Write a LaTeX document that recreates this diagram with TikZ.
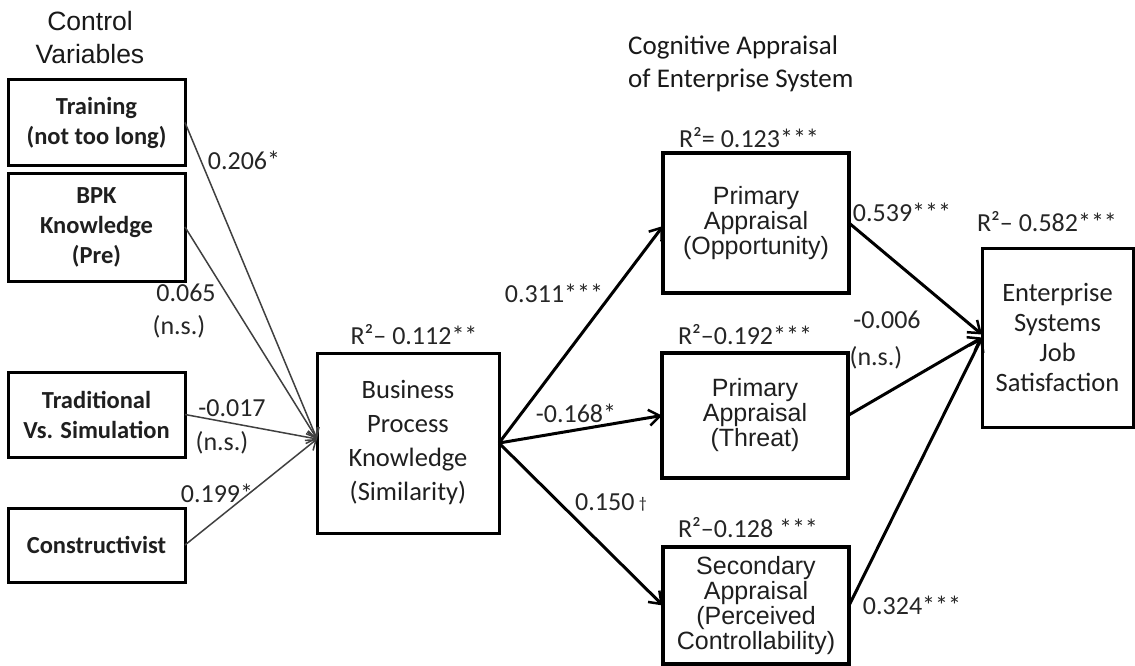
\documentclass[tikz,border=0pt]{standalone}
\usepackage{fontspec}
\setmainfont{Carlito}
\newfontfamily\arialfont{Liberation Sans}
\usetikzlibrary{arrows.meta}

\begin{document}
\begin{tikzpicture}[x=1pt,y=-1pt,
  box/.style={draw=black,line width=3pt,inner sep=0pt,outer sep=0pt,fill=white,align=center,text=black!88},
  ctrlbox/.style={box,font=\fontsize{24.5}{30}\selectfont\bfseries},
  mainbox/.style={box,font=\fontsize{26.5}{34}\selectfont},
  apprbox/.style={box,line width=3.5pt,font=\arialfont\fontsize{25}{25}\selectfont},
  coef/.style={inner sep=0pt,text=black!85,font=\fontsize{26}{30}\selectfont},
  heading/.style={inner sep=0pt,text=black!90,align=left},
  thinarrow/.style={draw=black!75,line width=1.5pt,-{Straight Barb[length=9pt,width=13pt,line width=1.5pt]}},
  thickarrow/.style={draw=black,line width=3pt,-{Straight Barb[length=11pt,width=16pt,line width=2.5pt]}}
]
\useasboundingbox (0,0) rectangle (1135,666);
\fill[white] (0,0) rectangle (1135,666);

% headings
\node[heading,align=center,font=\arialfont\fontsize{26.5}{33}\selectfont] (hctrl) at (90,38) {Control\\Variables};
\node[heading,anchor=west,font=\fontsize{27}{33}\selectfont] (hcog) at (628,64) {Cognitive Appraisal\\of Enterprise System};

% control variable boxes
\node[ctrlbox,minimum width=177pt,minimum height=85pt] (train) at (96.5,122.5) {Training\\(not too long)};
\node[ctrlbox,minimum width=177pt,minimum height=108pt] (bpk) at (96.5,227) {BPK\\Knowledge\\(Pre)};
\node[ctrlbox,minimum width=177pt,minimum height=85pt] (trad) at (96.5,414.5) {Traditional\\Vs. Simulation};
\node[ctrlbox,minimum width=177pt,minimum height=74pt] (cons) at (96.5,545) {Constructivist};

% mediator and appraisal boxes
\node[mainbox,minimum width=182pt,minimum height=180pt] (bpkn) at (408,443) {Business\\Process\\Knowledge\\(Similarity)};
\node[apprbox,minimum width=186pt,minimum height=140pt] (opp) at (756,223) {Primary\\Appraisal\\(Opportunity)};
\node[apprbox,minimum width=186pt,minimum height=125pt] (thr) at (755,415.5) {Primary\\Appraisal\\(Threat)};
\node[apprbox,minimum width=186pt,minimum height=117pt] (sec) at (756,605.5) {Secondary\\Appraisal\\(Perceived\\Controllability)};
\node[mainbox,minimum width=151pt,minimum height=179pt,font=\fontsize{26.5}{30}\selectfont] (ent) at (1057.5,337.5) {Enterprise\\Systems\\Job\\Satisfaction};

% paths from control variables
\draw[thinarrow] (train.east) -- ([yshift=4pt]bpkn.west);
\draw[thinarrow] (bpk.east) -- ([yshift=4pt]bpkn.west);
\draw[thinarrow] (trad.east) -- ([yshift=4pt]bpkn.west);
\draw[thinarrow] (cons.east) -- ([yshift=4pt]bpkn.west);

% structural paths
\draw[thickarrow] (bpkn.east) -- ([yshift=-3pt]opp.west);
\draw[thickarrow] (bpkn.east) -- (thr.west);
\draw[thickarrow] (bpkn.east) -- (sec.west);
\draw[thickarrow] (opp.east) -- ([yshift=3pt]ent.west);
\draw[thickarrow] (thr.east) -- (ent.west);
\draw[thickarrow] (sec.east) -- (ent.west);

% coefficients
\node[coef] (c1) at (244,160) {0.206*};
\node[coef] (c2) at (186,293) {0.065};
\node[coef] (c2n) at (179,327) {(n.s.)};
\node[coef] (c3) at (232,408) {-0.017};
\node[coef] (c3n) at (222,443) {(n.s.)};
\node[coef] (c4) at (217,493) {0.199*};
\node[coef] (c5) at (554,293) {0.311***};
\node[coef] (c6) at (576,413) {-0.168*};
\node[coef] (c7) at (611,502) {0.150\,{\fontsize{16}{16}\selectfont\raisebox{2pt}{†}}};
\node[coef] (c8) at (902,212) {0.539***};
\node[coef] (c9) at (887,320) {-0.006};
\node[coef] (c9n) at (876,358) {(n.s.)};
\node[coef] (c10) at (912,605) {0.324***};

% explained variance
\node[coef] (r1) at (414,335) {R²– 0.112**};
\node[coef] (r2) at (749,138) {R²= 0.123***};
\node[coef] (r3) at (745,335) {R²–0.192***};
\node[coef] (r4) at (748,528) {R²–0.128 ***};
\node[coef] (r5) at (1047,222) {R²– 0.582***};
\end{tikzpicture}
\end{document}
